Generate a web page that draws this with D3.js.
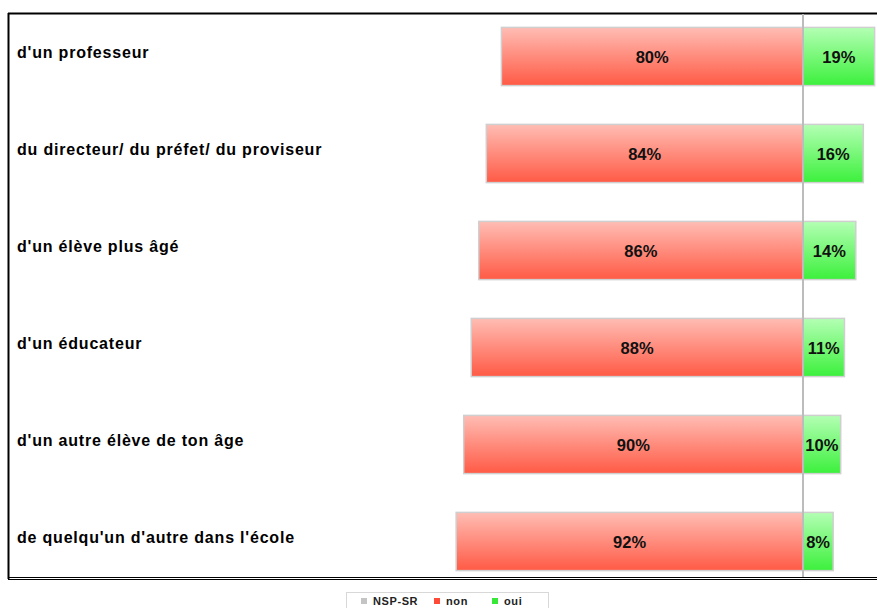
<!DOCTYPE html>
<html><head><meta charset="utf-8">
<script src="https://cdn.jsdelivr.net/npm/d3@7"></script>
<style>body{margin:0;background:#fff;}svg{display:block;font-family:"Liberation Sans",Arial,sans-serif;}</style>
</head><body>
<svg id="c" width="877" height="608"></svg>
<script>
const categories = ["d'un professeur","du directeur/ du préfet/ du proviseur","d'un élève plus âgé","d'un éducateur","d'un autre élève de ton âge","de quelqu'un d'autre dans l'école"];
const nonValues = [80, 84, 86, 88, 90, 92];
const ouiValues = [19, 16, 14, 11, 10, 8];
const legendLabels = ["NSP-SR", "non", "oui"];

const svg = d3.select("#c");
const defs = svg.append("defs");
const gr = defs.append("linearGradient").attr("id","gr").attr("x1",0).attr("y1",0).attr("x2",0).attr("y2",1);
gr.append("stop").attr("offset","0%").attr("stop-color","#ffbdb4");
gr.append("stop").attr("offset","100%").attr("stop-color","#ff5a45");
const gg = defs.append("linearGradient").attr("id","gg").attr("x1",0).attr("y1",0).attr("x2",0).attr("y2",1);
gg.append("stop").attr("offset","0%").attr("stop-color","#b4ffb4");
gg.append("stop").attr("offset","100%").attr("stop-color","#3cf03c");

const x0 = 803, pxPer = 3.77;
const x = d3.scaleLinear().domain([-100, 100]).range([x0 - 100*pxPer, x0 + 100*pxPer]);
const y = d3.scaleBand().domain(categories).range([8, 590]).paddingInner(0.4).paddingOuter(0.2);

// frame
svg.append("line").attr("x1",8).attr("x2",877).attr("y1",13.5).attr("y2",13.5).attr("stroke","#000").attr("stroke-width",2);
svg.append("line").attr("x1",8.5).attr("x2",8.5).attr("y1",13).attr("y2",579).attr("stroke","#000").attr("stroke-width",2);
svg.append("line").attr("x1",8).attr("x2",877).attr("y1",577.5).attr("y2",577.5).attr("stroke","#000").attr("stroke-width",1);
svg.append("line").attr("x1",8).attr("x2",877).attr("y1",579.5).attr("y2",579.5).attr("stroke","#000").attr("stroke-width",1);

const g = svg.append("g");
categories.forEach((c,i)=>{
  const yy = y(c), h = y.bandwidth(), cy = yy + h/2;
  g.append("rect").attr("x",x(-nonValues[i])).attr("y",yy).attr("width",x(0)-x(-nonValues[i])).attr("height",h)
    .attr("fill","url(#gr)").attr("stroke","#cfcfcf").attr("stroke-width",1.5);
  g.append("rect").attr("x",x(0)).attr("y",yy).attr("width",x(ouiValues[i])-x(0)).attr("height",h)
    .attr("fill","url(#gg)").attr("stroke","#cfcfcf").attr("stroke-width",1.5);
  g.append("text").attr("x",(x(-nonValues[i])+x(0))/2).attr("y",cy+6).attr("text-anchor","middle")
    .attr("font-size",16.5).attr("font-weight","bold").attr("fill","#111").text(nonValues[i]+"%");
  g.append("text").attr("x",(x(ouiValues[i])+x(0))/2).attr("y",cy+6).attr("text-anchor","middle")
    .attr("font-size",16.5).attr("font-weight","bold").attr("fill","#111").text(ouiValues[i]+"%");
  g.append("text").attr("x",17).attr("y",cy+1.5).attr("font-size",16).attr("font-weight","bold")
    .attr("letter-spacing",0.8).attr("fill","#000").text(c);
});
// zero line over bars
svg.append("line").attr("x1",x(0)).attr("x2",x(0)).attr("y1",14).attr("y2",577).attr("stroke","#bcbcbc").attr("stroke-width",2);

// legend
const lg = svg.append("g");
lg.append("rect").attr("x",346.5).attr("y",592.5).attr("width",202).attr("height",20).attr("fill","#fff").attr("stroke","#d8d8d8");
const lcol = ["#c4c4c4","#ff4a38","#38e838"];
const lx = [361, 434, 492];
legendLabels.forEach((l,i)=>{
  lg.append("rect").attr("x",lx[i]).attr("y",598).attr("width",6).attr("height",6).attr("fill",lcol[i]);
  lg.append("text").attr("x",lx[i]+12).attr("y",605).attr("font-size",11).attr("font-weight","bold")
    .attr("letter-spacing",0.6).attr("fill","#222").text(l);
});
</script>
</body></html>
